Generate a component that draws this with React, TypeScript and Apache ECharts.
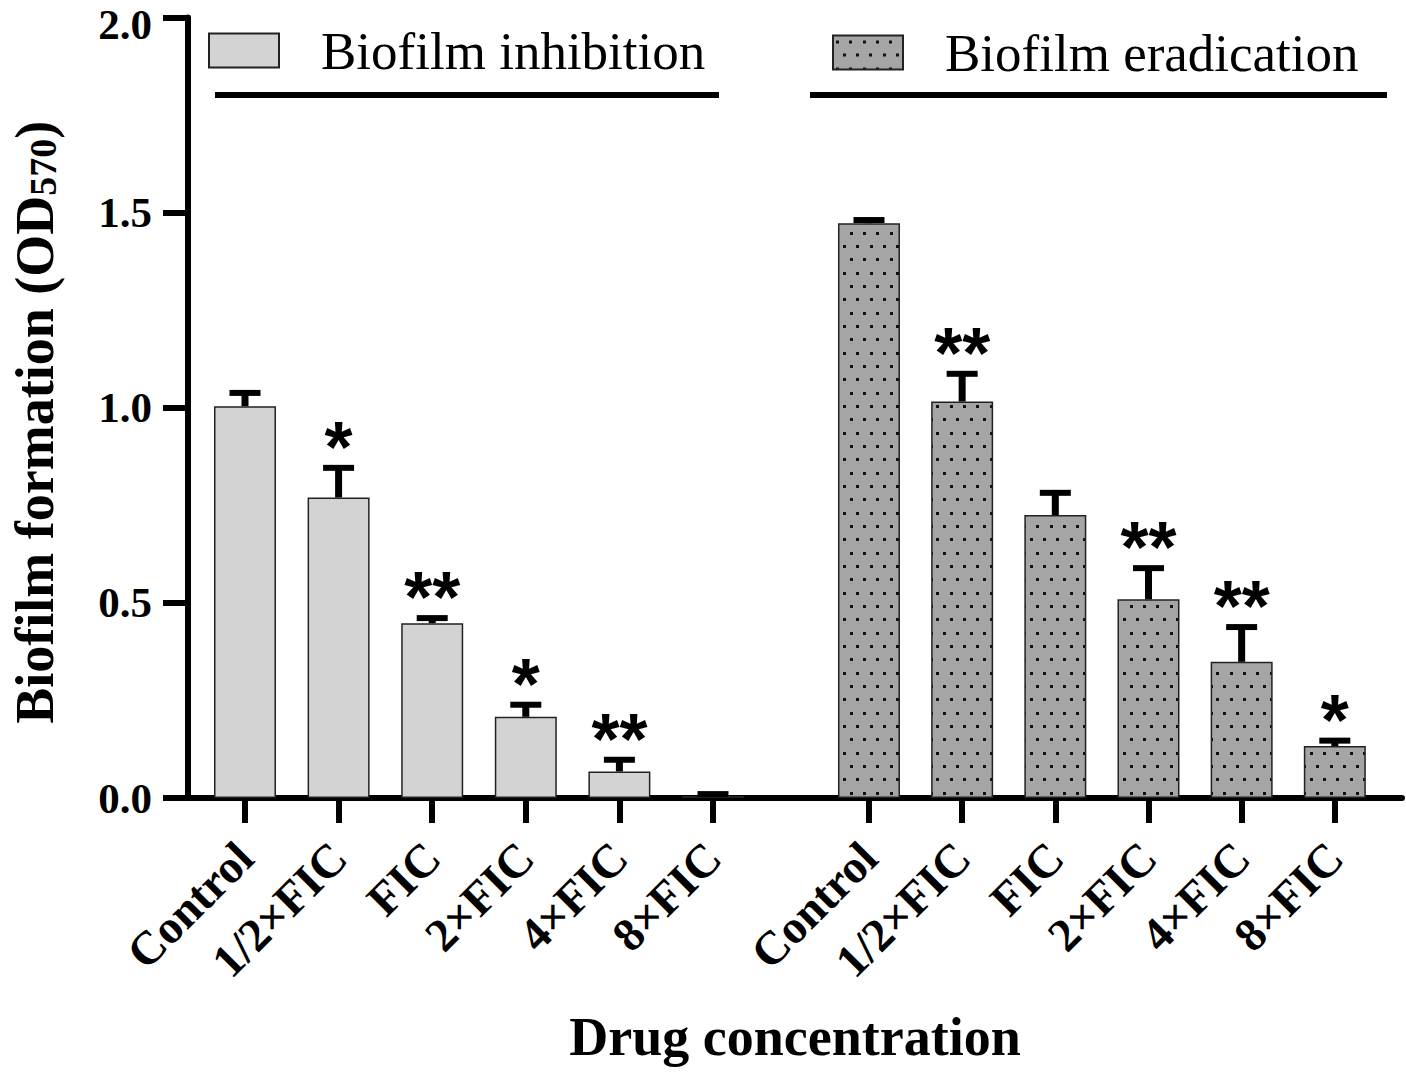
import React, { useEffect, useRef } from "react";
import * as echarts from "echarts";

const categories = ["Control", "1/2×FIC", "FIC", "2×FIC", "4×FIC", "8×FIC"];
const inhibitionMean = [1.004, 0.77, 0.448, 0.208, 0.068, 0.005];
const inhibitionErr = [0.034, 0.076, 0.013, 0.031, 0.03, 0.005];
const inhibitionStars = ["", "*", "**", "*", "**", ""];
const eradicationMean = [1.473, 1.016, 0.725, 0.509, 0.349, 0.133];
const eradicationErr = [0.008, 0.071, 0.057, 0.08, 0.089, 0.014];
const eradicationStars = ["", "**", "", "**", "**", "*"];
const seriesNames = ["Biofilm inhibition", "Biofilm eradication"];
const yMin = 0;
const yMax = 2;
const yInterval = 0.5;

const SERIF = "'Liberation Serif', 'Times New Roman', serif";
const SANS = "'Liberation Sans', Arial, sans-serif";

function makePattern() {
  const w = 40;
  const h = 80;
  const cv = document.createElement("canvas");
  cv.width = w;
  cv.height = h;
  const ctx = cv.getContext("2d")!;
  ctx.fillStyle = "#a5a5a5";
  ctx.fillRect(0, 0, w, h);
  ctx.fillStyle = "#111";
  for (let r = 0; r < 6; r++) {
    const y = Math.round(r * 13.333) + 5;
    const off = r % 2 ? 6.667 : 0;
    for (let c = 0; c < 3; c++) {
      const x = Math.round(off + c * 13.333) + 3;
      ctx.fillRect(x, y, 3, 3);
    }
  }
  return { image: cv.toDataURL(), repeat: "repeat", imageWidth: w, imageHeight: h } as any;
}

function errSeries(name: string, means: number[], errs: number[], stars: string[], idx: number) {
  return {
    type: "custom",
    name,
    xAxisIndex: idx,
    yAxisIndex: idx,
    z: 5,
    data: means.map((m, i) => [i, m, errs[i]]),
    encode: { x: 0, y: 1 },
    renderItem: (params: any, api: any) => {
      const i = api.value(0);
      const m = api.value(1);
      const e = api.value(2);
      const base = api.coord([i, m]);
      const top = api.coord([i, m + e]);
      const children: any[] = [
        {
          type: "line",
          shape: { x1: base[0], y1: base[1], x2: top[0], y2: top[1] },
          style: { stroke: "#000", lineWidth: 7 },
        },
        {
          type: "line",
          shape: { x1: top[0] - 15.5, y1: top[1], x2: top[0] + 15.5, y2: top[1] },
          style: { stroke: "#000", lineWidth: 6 },
        },
      ];
      const s = stars[params.dataIndex] || "";
      const n = s.length;
      for (let k = 0; k < n; k++) {
        const cx = top[0] + (k - (n - 1) / 2) * 28;
        children.push({
          type: "text",
          style: {
            text: "*",
            x: cx,
            y: top[1] - 30 + 9,
            align: "center",
            verticalAlign: "middle",
            fontSize: 72,
            fontWeight: "bold",
            fontFamily: SANS,
            fill: "#000",
          },
        });
      }
      return { type: "group", children };
    },
  };
}

export default function App() {
  const ref = useRef<HTMLDivElement>(null);
  useEffect(() => {
    document.body.style.margin = "0";
    const chart = echarts.init(ref.current!, null, { renderer: "svg" });
    const pattern = makePattern();
    const gridTop = 17.5;
    const gridBottom = 1074 - 798;
    const catAxis = (gridIndex: number) => ({
      type: "category",
      gridIndex,
      data: categories,
      boundaryGap: true,
      axisLine: { show: false },
      axisTick: { show: true, alignWithLabel: true, interval: 0, length: 25, lineStyle: { color: "#000", width: 6 } },
      axisLabel: {
        interval: 0,
        rotate: 45,
        margin: 52,
        fontFamily: SERIF,
        fontWeight: "bold",
        fontSize: 47,
        color: "#000",
      },
      splitLine: { show: false },
    });
    const hiddenY = (gridIndex: number) => ({
      type: "value",
      gridIndex,
      min: yMin,
      max: yMax,
      interval: yInterval,
      show: false,
      splitLine: { show: false },
    });
    const yLabelStyle = { fontFamily: SERIF, fontWeight: "bold", fontSize: 43, color: "#000" };
    const option: any = {
      animation: false,
      backgroundColor: "#fff",
      grid: [
        { left: 198.2, width: 561.6, top: gridTop, bottom: gridBottom, containLabel: false },
        { left: 822.4, width: 559, top: gridTop, bottom: gridBottom, containLabel: false },
        { left: 183, right: 4, top: gridTop, bottom: gridBottom, containLabel: false },
      ],
      legend: [
        {
          data: [seriesNames[0]],
          left: 208,
          top: 24,
          padding: 0,
          itemWidth: 70,
          itemHeight: 34,
          icon: "rect",
          selectedMode: false,
          textStyle: { fontFamily: SERIF, fontSize: 53, color: "#000", padding: [0, 0, 0, 37] },
        },
        {
          data: [seriesNames[1]],
          left: 832,
          top: 26,
          padding: 0,
          itemWidth: 70,
          itemHeight: 34,
          icon: "rect",
          selectedMode: false,
          textStyle: { fontFamily: SERIF, fontSize: 53, color: "#000", padding: [0, 0, 0, 37] },
        },
      ],
      graphic: [
        { type: "line", shape: { x1: 215, y1: 95, x2: 719, y2: 95 }, style: { stroke: "#000", lineWidth: 6 } },
        { type: "line", shape: { x1: 810, y1: 95, x2: 1387, y2: 95 }, style: { stroke: "#000", lineWidth: 6 } },
      ],
      xAxis: [
        catAxis(0),
        catAxis(1),
        {
          type: "value",
          gridIndex: 2,
          min: 0,
          max: 1,
          axisLine: { show: true, onZero: false, lineStyle: { color: "#000", width: 6 } },
          axisTick: { show: false },
          axisLabel: { show: false },
          splitLine: { show: false },
          name: "Drug concentration",
          nameLocation: "middle",
          nameGap: 212,
          nameTextStyle: { fontFamily: SERIF, fontWeight: "bold", fontSize: 54, color: "#000" },
        },
      ],
      yAxis: [
        hiddenY(0),
        hiddenY(1),
        {
          type: "value",
          gridIndex: 2,
          min: yMin,
          max: yMax,
          interval: yInterval,
          axisLine: { show: true, lineStyle: { color: "#000", width: 6 } },
          axisTick: { show: true, length: 25, lineStyle: { color: "#000", width: 6 } },
          axisLabel: {
            margin: 36,
            ...yLabelStyle,
            formatter: (v: number) => (v === yMax ? `{top|${v.toFixed(1)}}` : `{n|${v.toFixed(1)}}`),
            rich: {
              top: { ...yLabelStyle, padding: [14, 0, 0, 0] },
              n: { ...yLabelStyle },
            },
          },
          splitLine: { show: false },
          name: "{a|Biofilm formation (OD}{b|570}{a|)}{sp|}",
          nameLocation: "middle",
          nameRotate: 90,
          nameGap: 126,
          nameTextStyle: {
            rich: {
              a: { fontFamily: SERIF, fontWeight: "bold", fontSize: 54, color: "#000", lineHeight: 60, verticalAlign: "bottom" },
              b: { fontFamily: SERIF, fontWeight: "bold", fontSize: 38, color: "#000", lineHeight: 40, verticalAlign: "bottom" },
              sp: { width: 29, lineHeight: 60 },
            },
          },
        },
      ],
      series: [
        {
          type: "bar",
          name: seriesNames[0],
          xAxisIndex: 0,
          yAxisIndex: 0,
          data: inhibitionMean,
          barWidth: 62,
          itemStyle: { color: "#d3d3d3", borderColor: "#222", borderWidth: 1.5 },
        },
        {
          type: "bar",
          name: seriesNames[1],
          xAxisIndex: 1,
          yAxisIndex: 1,
          data: eradicationMean,
          barWidth: 62,
          itemStyle: { color: pattern, borderColor: "#222", borderWidth: 1.5 },
        },
        errSeries("err-inhibition", inhibitionMean, inhibitionErr, inhibitionStars, 0),
        errSeries("err-eradication", eradicationMean, eradicationErr, eradicationStars, 1),
      ],
    };
    chart.setOption(option);
    return () => chart.dispose();
  }, []);
  return <div ref={ref} style={{ width: 1406, height: 1074 }} />;
}
